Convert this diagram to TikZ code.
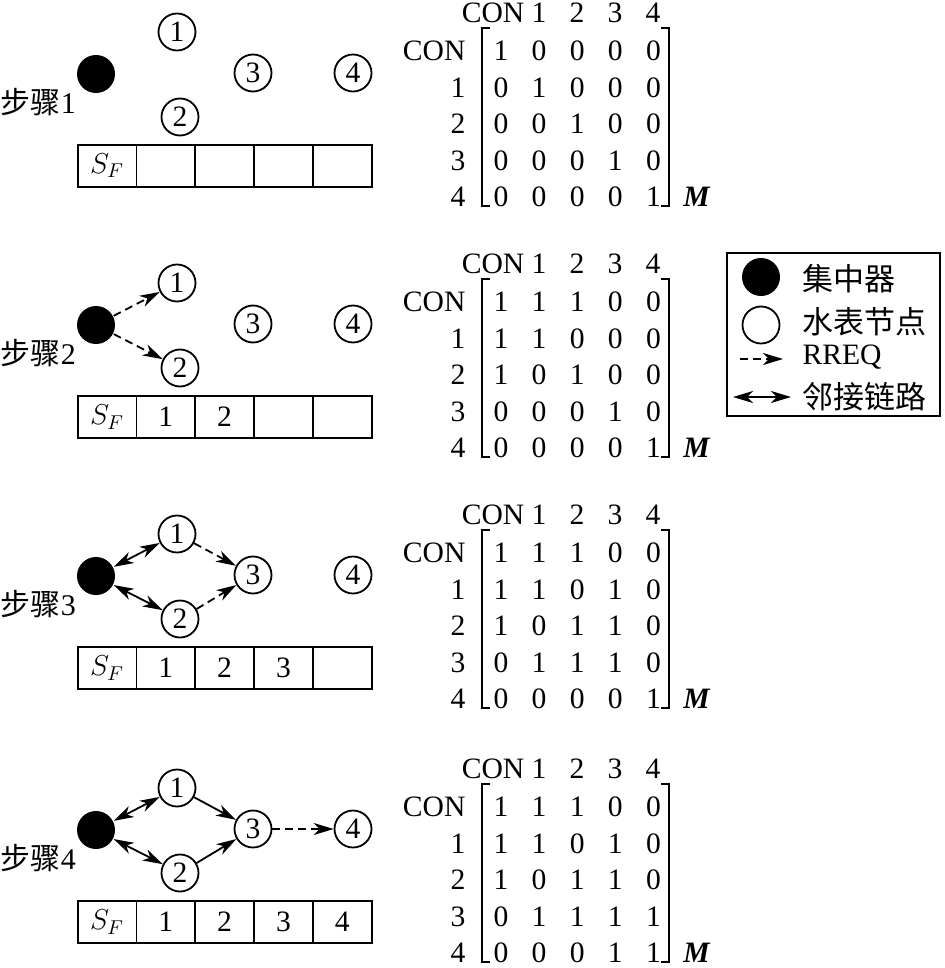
\documentclass[tikz,border=0pt]{standalone}
\usepackage{fontspec}
\setmainfont{Liberation Serif}
\newfontfamily\zhfont{Noto Sans CJK SC}
\usetikzlibrary{arrows.meta}
\tikzset{
  hub/.style={circle, fill=black, minimum size=19pt, inner sep=0pt},
  meter/.style={circle, draw, minimum size=18.5pt, inner sep=0pt},
  cell/.style={draw, minimum width=29.4pt, minimum height=21pt, inner sep=0pt},
  rreq/.style={dash pattern=on 4pt off 2.5pt, -{Stealth[length=10pt, width=6pt, inset=3pt]}},
  link/.style={{Stealth[length=10pt, width=6pt, inset=3pt]}-{Stealth[length=10pt, width=6pt, inset=3pt]}},
  relay/.style={-{Stealth[length=10pt, width=6pt, inset=3pt]}},
  zh/.style={font=\zhfont\fontsize{15.5}{18}\selectfont}
}
\begin{document}
\begin{tikzpicture}[x=0.5pt, y=-0.5pt, line width=0.9pt, font=\fontsize{14.8}{17}\selectfont]
  \useasboundingbox (0,0) rectangle (945,968);
  % four steps: network, table, matrix frame
  \foreach \s/\dy in {1/0, 2/251, 3/502, 4/756} {
    \begin{scope}[shift={(0,\dy)}]
      \node[hub] (c\s) at (96,74) {};
      \node[meter] (m\s-1) at (177,32) {1};
      \node[meter] (m\s-2) at (180,117) {2};
      \node[meter] (m\s-3) at (253,73) {3};
      \node[meter] (m\s-4) at (353,73) {4};
      \node[font=\fontsize{15}{18}\selectfont, anchor=west, inner sep=0pt] (step\s) at (0,102) {{\zhfont 步骤}\s};
      \foreach \i in {0,...,4}
        \node[cell] (t\s-\i) at (107+58.8*\i,166) {};
      \node (sf\s) at (t\s-0) {$S_F$};
      \node (hd\s-0) at (493,13) {CON};
      \foreach \j/\x in {1/539, 2/577, 3/615, 4/653}
        \node (hd\s-\j) at (\x,13) {\j};
      \node[anchor=east] (rw\s-0) at (473,51) {CON};
      \foreach \j in {1,...,4}
        \node[anchor=east] (rw\s-\j) at (473,51+36.5*\j) {\j};
      \draw (490,28) -- (482,28) -- (482,206) -- (490,206);
      \draw (661,28) -- (669,28) -- (669,206) -- (661,206);
      \node (mm\s) at (697,197) {\textbf{\textit{M}}};
    \end{scope}
  }
  % table entries
  \foreach \s/\n in {2/2, 3/3, 4/4}
    \foreach \i in {1,...,\n}
      \node (tv\s-\i) at (t\s-\i) {\i};
  % adjacency matrices
  \foreach \r/\row in {0/{1,0,0,0,0}, 1/{0,1,0,0,0}, 2/{0,0,1,0,0}, 3/{0,0,0,1,0}, 4/{0,0,0,0,1}}
    \foreach \v [count=\c from 0] in \row
      \node (e1-\r-\c) at (501+38.1*\c,51+36.5*\r) {\v};
  \foreach \r/\row in {0/{1,1,1,0,0}, 1/{1,1,0,0,0}, 2/{1,0,1,0,0}, 3/{0,0,0,1,0}, 4/{0,0,0,0,1}}
    \foreach \v [count=\c from 0] in \row
      \node (e2-\r-\c) at (501+38.1*\c,251+51+36.5*\r) {\v};
  \foreach \r/\row in {0/{1,1,1,0,0}, 1/{1,1,0,1,0}, 2/{1,0,1,1,0}, 3/{0,1,1,1,0}, 4/{0,0,0,0,1}}
    \foreach \v [count=\c from 0] in \row
      \node (e3-\r-\c) at (501+38.1*\c,502+51+36.5*\r) {\v};
  \foreach \r/\row in {0/{1,1,1,0,0}, 1/{1,1,0,1,0}, 2/{1,0,1,1,0}, 3/{0,1,1,1,1}, 4/{0,0,0,1,1}}
    \foreach \v [count=\c from 0] in \row
      \node (e4-\r-\c) at (501+38.1*\c,756+51+36.5*\r) {\v};
  % links
  \draw[rreq] (c2) -- (m2-1);
  \draw[rreq] (c2) -- (m2-2);
  \draw[link] (c3) -- (m3-1);
  \draw[link] (c3) -- (m3-2);
  \draw[rreq] (m3-1) -- (m3-3);
  \draw[rreq] (m3-2) -- (m3-3);
  \draw[link] (c4) -- (m4-1);
  \draw[link] (c4) -- (m4-2);
  \draw[relay] (m4-1) -- (m4-3);
  \draw[relay] (m4-2) -- (m4-3);
  \draw[rreq] (m4-3) -- (m4-4);
  % legend
  \draw (727,253) rectangle (940,416);
  \node[hub] (lg-c) at (761,277) {};
  \node[zh, anchor=west] (lg-ct) at (795,279) {集中器};
  \node[meter] (lg-m) at (761,325) {};
  \node[zh, anchor=west] (lg-mt) at (795,322) {水表节点};
  \coordinate (lg-r1) at (740,359);
  \coordinate (lg-r2) at (783,359);
  \draw[rreq] (lg-r1) -- (lg-r2);
  \node[anchor=west] (lg-rt) at (795,357) {RREQ};
  \coordinate (lg-l1) at (733,397);
  \coordinate (lg-l2) at (791,397);
  \draw[link] (lg-l1) -- (lg-l2);
  \node[zh, anchor=west] (lg-lt) at (795,397) {邻接链路};
\end{tikzpicture}
\end{document}
